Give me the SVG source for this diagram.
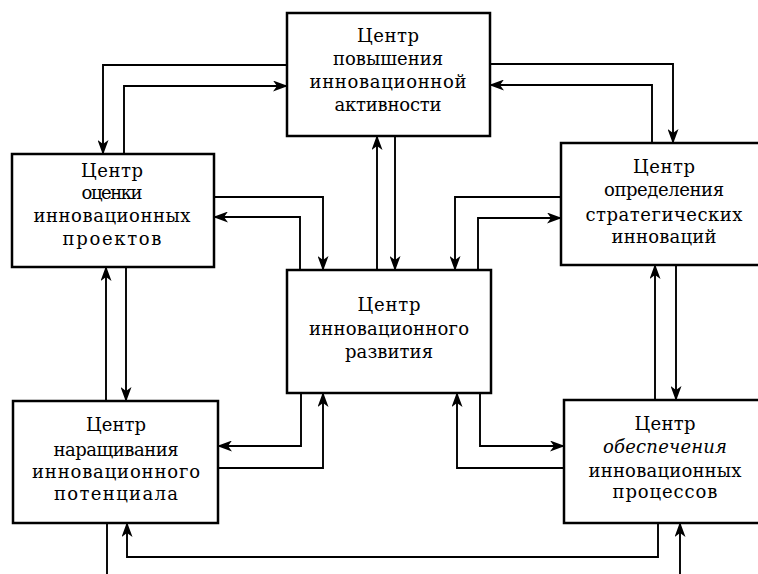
<svg xmlns="http://www.w3.org/2000/svg" width="758" height="574" viewBox="0 0 758 574">
<style>
.box{fill:#fff;stroke:#000;stroke-width:2.5}
.t{font-size:18px;fill:#000;text-anchor:middle}
.c path{fill:none;stroke:#000;stroke-width:1.9}
.c path.a{marker-end:url(#ah)}
</style>
<defs>
<marker id="ah" viewBox="0 0 15 11" refX="14" refY="5.5" markerWidth="15" markerHeight="11" orient="auto" markerUnits="userSpaceOnUse">
<path d="M0,0 L15,5.5 L0,11 L4,5.5 z" fill="#000"/>
</marker>
</defs>
<rect width="758" height="574" fill="#fff"/>
<g class="c" id="connectors">
<path class="a" d="M287,65 H103 V154"/>
<path class="a" d="M124,154 V86 H287"/>
<path class="a" d="M490,64 H673 V143"/>
<path class="a" d="M652,143 V85 H490"/>
<path class="a" d="M214,197 H323 V270"/>
<path class="a" d="M300,270 V217 H214"/>
<path class="a" d="M395,136 V270"/>
<path class="a" d="M377,270 V136"/>
<path class="a" d="M561,197 H455 V270"/>
<path class="a" d="M478,270 V218 H561"/>
<path class="a" d="M126,267 V401"/>
<path class="a" d="M106,401 V267"/>
<path class="a" d="M301,393 V446 H218"/>
<path class="a" d="M218,468 H323 V393"/>
<path class="a" d="M480,393 V446 H564"/>
<path class="a" d="M564,468 H457 V393"/>
<path class="a" d="M655,400 V265"/>
<path class="a" d="M676,265 V400"/>
<path class="a" d="M658,523 V557 H127 V523"/>
<path d="M107,523 V574"/>
<path class="a" d="M680,574 V523"/>
</g>
<g font-family="'DejaVu Serif', 'Liberation Serif', serif">
<g id="n-top">
<rect class="box" x="287" y="13" width="203" height="123"/>
<text class="t"><tspan x="388" y="42" textLength="62" lengthAdjust="spacing">Центр</tspan><tspan x="388" y="65" textLength="110" lengthAdjust="spacing">повышения</tspan><tspan x="388" y="88" textLength="157" lengthAdjust="spacing">инновационной</tspan><tspan x="388" y="111" textLength="107" lengthAdjust="spacing">активности</tspan></text>
</g>
<g id="n-left">
<rect class="box" x="12" y="154" width="202" height="113"/>
<text class="t"><tspan x="112" y="177" textLength="62" lengthAdjust="spacing">Центр</tspan><tspan x="112" y="199" textLength="61" lengthAdjust="spacing">оценки</tspan><tspan x="112" y="222" textLength="157" lengthAdjust="spacing">инновационных</tspan><tspan x="112" y="245" textLength="99" lengthAdjust="spacing">проектов</tspan></text>
</g>
<g id="n-right">
<rect class="box" x="561" y="143" width="210" height="122"/>
<text class="t"><tspan x="664" y="173" textLength="62" lengthAdjust="spacing">Центр</tspan><tspan x="664" y="196" textLength="120" lengthAdjust="spacing">определения</tspan><tspan x="664" y="221" textLength="157" lengthAdjust="spacing">стратегических</tspan><tspan x="664" y="243" textLength="105" lengthAdjust="spacing">инноваций</tspan></text>
</g>
<g id="n-center">
<rect class="box" x="287" y="270" width="204" height="123"/>
<text class="t"><tspan x="389" y="311" textLength="63" lengthAdjust="spacing">Центр</tspan><tspan x="389" y="335" textLength="160" lengthAdjust="spacing">инновационного</tspan><tspan x="389" y="358" textLength="88" lengthAdjust="spacing">развития</tspan></text>
</g>
<g id="n-bottom-left">
<rect class="box" x="13" y="401" width="205" height="122"/>
<text class="t"><tspan x="116" y="431" textLength="60" lengthAdjust="spacing">Центр</tspan><tspan x="116" y="456" textLength="125" lengthAdjust="spacing">наращивания</tspan><tspan x="116" y="478" textLength="168" lengthAdjust="spacing">инновационного</tspan><tspan x="116" y="500" textLength="124" lengthAdjust="spacing">потенциала</tspan></text>
</g>
<g id="n-bottom-right">
<rect class="box" x="564" y="400" width="207" height="123"/>
<text class="t"><tspan x="665" y="430" textLength="61" lengthAdjust="spacing">Центр</tspan><tspan x="665" y="453" textLength="124" lengthAdjust="spacing" font-style="italic">обеспечения</tspan><tspan x="665" y="477" textLength="153" lengthAdjust="spacing">инновационных</tspan><tspan x="665" y="498" textLength="105" lengthAdjust="spacing">процессов</tspan></text>
</g>
</g>
</svg>
